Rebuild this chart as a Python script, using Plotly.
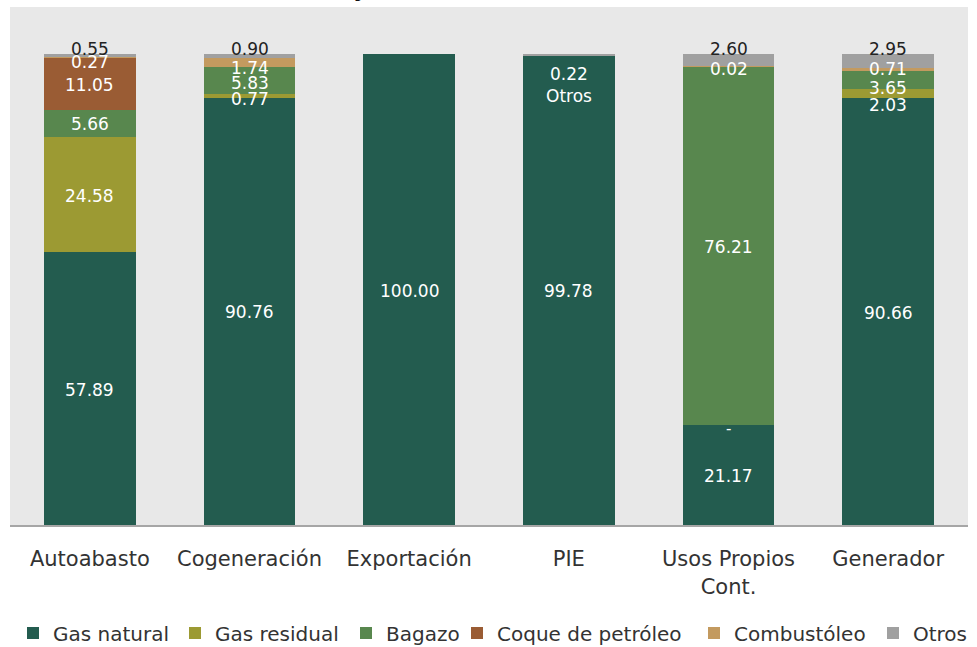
import plotly.graph_objects as go

# categories and series (% of generation by fuel)
categories = ['Autoabasto', 'Cogeneración', 'Exportación', 'PIE', 'Usos Propios<br>Cont.', 'Generador']
gas_natural = [57.89, 90.76, 100.00, 99.78, 21.17, 90.66]
gas_residual = [24.58, 0.77, 0, 0, 0, 2.03]
bagazo = [5.66, 5.83, 0, 0, 76.21, 3.65]
coque = [11.05, 0, 0, 0, 0, 0]
combustoleo = [0.27, 1.74, 0, 0, 0.02, 0.71]
otros = [0.55, 0.90, 0, 0.22, 2.60, 2.95]

series = [
    ('Gas natural', gas_natural, '#235c4f'),
    ('Gas residual', gas_residual, '#9c9a33'),
    ('Bagazo', bagazo, '#58874e'),
    ('Coque de petróleo', coque, '#9a5c34'),
    ('Combustóleo', combustoleo, '#c39a5f'),
    ('Otros', otros, '#a0a0a0'),
]

FONT = 'DejaVu Sans'
fig = go.Figure()

# legend text x positions (px) in the original picture
legend_px = [53, 215, 386, 497, 734, 913]
plot_left, plot_w = 10, 958

for i, (name, vals, col) in enumerate(series):
    lg = 'legend' if i == 0 else f'legend{i + 1}'
    fig.add_trace(go.Bar(x=categories, y=vals, name=name, marker_color=col,
                         marker_line_width=0, legend=lg, showlegend=True))

# data labels, stacked centres; small nudges where Excel moved them
nudge = {(0, 4): -4, (1, 1): -2, (1, 2): -2, (1, 4): -5, (4, 4): -2,
         (5, 1): -11, (5, 2): -7, (5, 4): 2}
base = [0.0] * len(categories)
for s, (name, vals, col) in enumerate(series):
    for c, v in enumerate(vals):
        if name == 'Otros':
            if c == 3:
                fig.add_annotation(x=categories[c], y=base[c] + v, text=f'{v:.2f}<br>Otros',
                                   showarrow=False, yshift=-31,
                                   font=dict(family=FONT, size=17, color='white'))
            elif v > 0:
                fig.add_annotation(x=categories[c], y=base[c] + v, text=f'{v:.2f}',
                                   showarrow=False, yshift=5,
                                   font=dict(family=FONT, size=17, color='#222'))
        elif v > 0:
            fig.add_annotation(x=categories[c], y=base[c] + v / 2, text=f'{v:.2f}',
                               showarrow=False, yshift=-1 + nudge.get((c, s), 0),
                               font=dict(family=FONT, size=17, color='white'))
        elif name == 'Gas residual' and c == 4:
            fig.add_annotation(x=categories[c], y=base[c], text='-', showarrow=False,
                               yshift=-4, font=dict(family=FONT, size=15, color='white'))
        base[c] += v

# chart title, mostly above the visible page (only its lowest strokes show)
fig.add_annotation(xref='paper', yref='paper', x=0.5, y=1, yanchor='middle', yshift=18,
                   text='<b>(Porcentaje del total de cada modalidad)</b>', showarrow=False,
                   font=dict(family=FONT, size=22, color='#111'))

layout_legends = {}
for i, px in enumerate(legend_px):
    key = 'legend' if i == 0 else f'legend{i + 1}'
    layout_legends[key] = dict(orientation='h', x=(px - 40 - plot_left) / plot_w, xanchor='left',
                               y=-0.2085, yanchor='middle', bgcolor='rgba(0,0,0,0)',
                               font=dict(family=FONT, size=20, color='#333'))

fig.update_layout(
    barmode='stack', bargap=0.425, showlegend=True,
    width=977, height=647,
    margin=dict(l=10, r=9, t=7, b=122, autoexpand=False),
    plot_bgcolor='#e8e8e8', paper_bgcolor='white',
    xaxis=dict(showline=True, linecolor='#a6a6a6', linewidth=2, showgrid=False,
               ticks='', ticklabelstandoff=14,
               tickfont=dict(family=FONT, size=21, color='#333')),
    yaxis=dict(range=[0, 110], visible=False),
    **layout_legends,
)

fig.write_html('out.html', config={'displayModeBar': False},
               post_script="document.body.style.margin='0';")
